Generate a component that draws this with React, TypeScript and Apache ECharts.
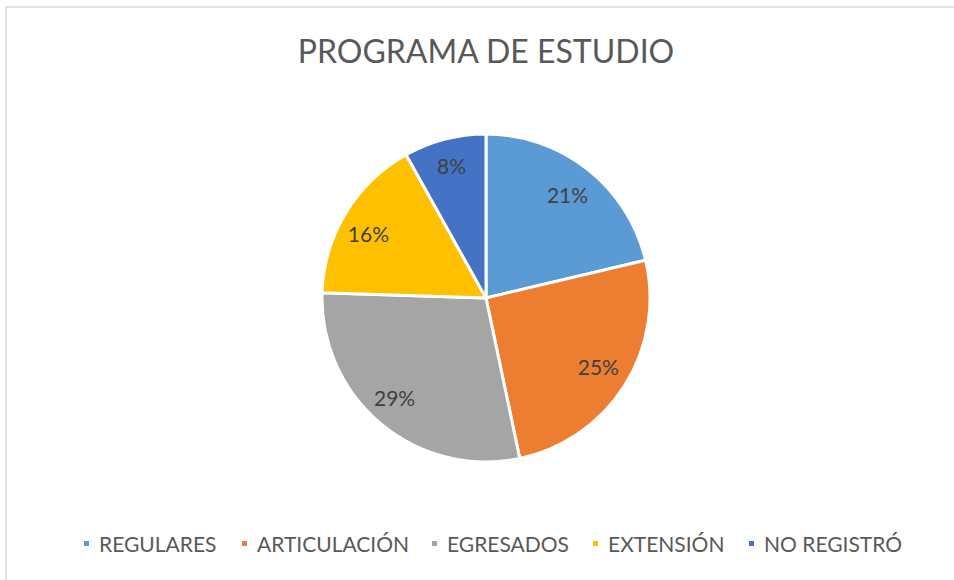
import React, { useEffect, useRef } from "react";
import * as echarts from "echarts";

const categories = ["REGULARES", "ARTICULACIÓN", "EGRESADOS", "EXTENSIÓN", "NO REGISTRÓ"];
const values = [21.3, 25.4, 28.8, 16.4, 8.1];
const colors = ["#5B9BD5", "#ED7D31", "#A5A5A5", "#FFC000", "#4472C4"];
const titleText = "PROGRAMA DE ESTUDIO";
const legendLeft = [82, 240, 430, 591, 747];
const labelNudge = [[-1, 0], [0, -4], [-6, -3], [-4, 4], [-1, -5]];
const FONT = "Lato";

export default function App() {
  const ref = useRef<HTMLDivElement>(null);
  useEffect(() => {
    const chart = echarts.init(ref.current!, null, { renderer: "svg" });
    const data = categories.map((name, i) => ({ name, value: values[i], itemStyle: { color: colors[i] } }));
    chart.setOption({
      animation: false,
      backgroundColor: "#ffffff",
      graphic: [
        {
          type: "rect",
          shape: { x: 6, y: 7, width: 1000, height: 700 },
          style: { fill: "none", stroke: "#d9d9d9", lineWidth: 1.5 },
          silent: true,
        },
        {
          type: "text",
          x: 486,
          y: 50,
          silent: true,
          style: {
            text: titleText,
            align: "center",
            verticalAlign: "middle",
            fontFamily: FONT,
            fontSize: 32,
            fontWeight: "normal",
            fill: "#595959",
          },
        },
      ],
      legend: categories.map((name, i) => ({
        data: [name],
        top: 533,
        left: legendLeft[i],
        padding: 0,
        itemWidth: 7,
        itemHeight: 7,
        icon: "rect",
        selectedMode: false,
        textStyle: { fontFamily: FONT, fontSize: 21, color: "#595959", padding: [0, 0, 0, 4] },
      })),
      series: [
        {
          type: "pie",
          center: [486, 298],
          radius: [0, 164],
          startAngle: 90,
          clockwise: true,
          data,
          label: { show: false },
          labelLine: { show: false },
          itemStyle: { borderColor: "#ffffff", borderWidth: 3 },
          emphasis: { disabled: true },
          silent: true,
        },
        {
          type: "pie",
          center: [486, 299],
          radius: [96, 164],
          startAngle: 90,
          clockwise: true,
          data: categories.map((name, i) => ({ name, value: values[i], label: { offset: labelNudge[i] } })),
          itemStyle: { color: "rgba(0,0,0,0)" },
          label: {
            show: true,
            position: "inside",
            formatter: (p: any) => Math.round(p.percent) + "%",
            fontFamily: FONT,
            fontSize: 21,
            color: "#404040",
          },
          labelLine: { show: false },
          emphasis: { disabled: true },
          silent: true,
          legendHoverLink: false,
        },
      ],
    });
    return () => chart.dispose();
  }, []);
  return <div ref={ref} style={{ position: "fixed", left: 0, top: 0, width: 954, height: 580 }} />;
}
